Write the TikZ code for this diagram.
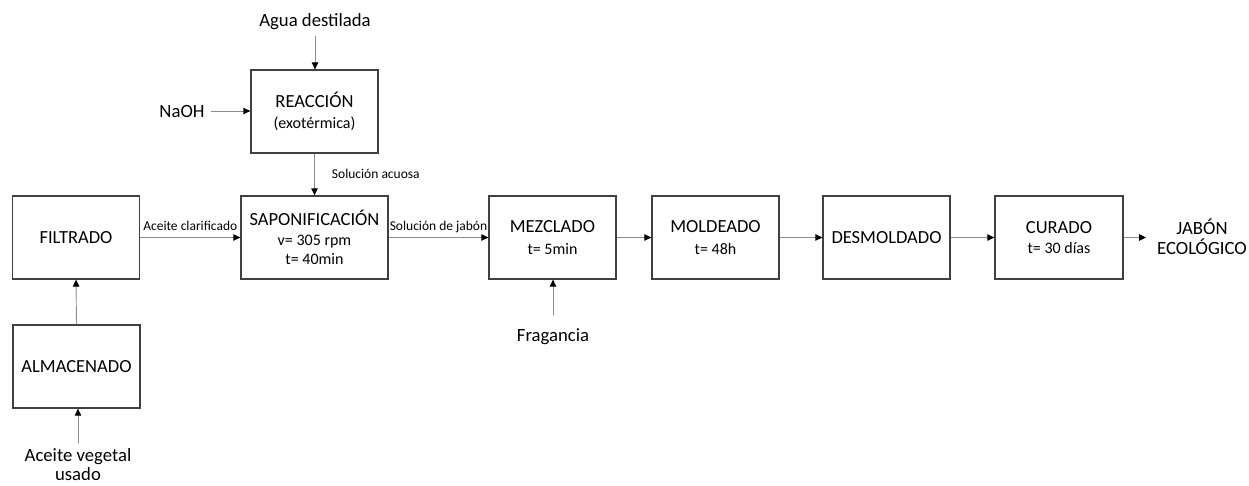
\documentclass[tikz,border=0pt]{standalone}
\usepackage{fontspec}
\setmainfont{Carlito}
\usetikzlibrary{arrows.meta}
\newcommand\smalltxt{\fontsize{16}{19}\selectfont}
\begin{document}
\begin{tikzpicture}[x=1pt,y=-1pt,
 box/.style={draw=black!75, line width=1.3pt, minimum width=127pt, minimum height=83pt, inner sep=0pt, align=center, text=black, font=\fontsize{18.5}{21.5}\selectfont},
 ext/.style={inner sep=0pt, align=center, text=black, font=\fontsize{18.7}{20}\selectfont},
 lbl/.style={inner sep=0pt, text=black, font=\fontsize{13.5}{15}\selectfont},
 arr/.style={draw=black!45, line width=0.9pt, -{Triangle[length=7pt,width=6.5pt,color=black]}}]
\path[use as bounding box] (0,0) rectangle (1249,485);

% boxes
\node[box] (filt) at (76,237.5) {FILTRADO};
\node[box] (alm) at (76.5,366.5) {ALMACENADO};
\node[box, minimum width=147pt, font=\fontsize{18.5}{19.5}\selectfont] (sap) at (314.5,237.5) {SAPONIFICACIÓN\\{\smalltxt v= 305 rpm}\\{\smalltxt t= 40min}};
\node[box] (reac) at (314.5,111.5) {REACCIÓN\\{\smalltxt (exotérmica)}};
\node[box] (mez) at (552.5,237.5) {MEZCLADO\\{\smalltxt t= 5min}};
\node[box] (mol) at (715.5,237.5) {MOLDEADO\\{\smalltxt t= 48h}};
\node[box] (des) at (886.5,237.5) {DESMOLDADO};
\node[box, minimum width=128pt, font=\fontsize{18.5}{20.5}\selectfont] (cur) at (1059,237.5) {CURADO\\{\smalltxt t= 30 días}};

% external inputs / outputs
\node[ext] (agua) at (315,22) {Agua destilada};
\node[ext] (naoh) at (182,111) {NaOH};
\node[ext] (frag) at (553,337) {Fragancia};
\node[ext, font=\fontsize{18.7}{19}\selectfont] (acv) at (78,465) {Aceite vegetal\\usado};
\node[ext] (jab) at (1202,237) {JABÓN\\ECOLÓGICO};

% connectors
\draw[arr, shorten <=6pt] (agua.south) -- (agua.south |- reac.north);
\draw[arr, shorten <=6pt] (naoh.east) -- (naoh.east -| reac.west);
\draw[arr] (reac.south) -- (sap.north)
  node[lbl, pos=0.5, anchor=base west, xshift=17pt, yshift=-4pt] (lacu) {Solución acuosa};
\draw[arr] (filt.east) -- (sap.west)
  node[lbl, pos=0.5, anchor=base, yshift=7.5pt] (lacl) {Aceite clarificado};
\draw[arr] (sap.east) -- (mez.west)
  node[lbl, pos=0.5, anchor=base, yshift=7.5pt] (ljab) {Solución de jabón};
\draw[arr] (alm.north) -- (filt.south);
\draw[arr, shorten <=6pt] (acv.north) -- (acv.north |- alm.south);
\draw[arr, shorten <=14pt] (frag.north) -- (frag.north |- mez.south);
\draw[arr] (mez) -- (mol);
\draw[arr] (mol) -- (des);
\draw[arr] (des) -- (cur);
\draw[arr, shorten >=11pt] (cur.east) -- (cur.east -| jab.west);
\end{tikzpicture}
\end{document}
